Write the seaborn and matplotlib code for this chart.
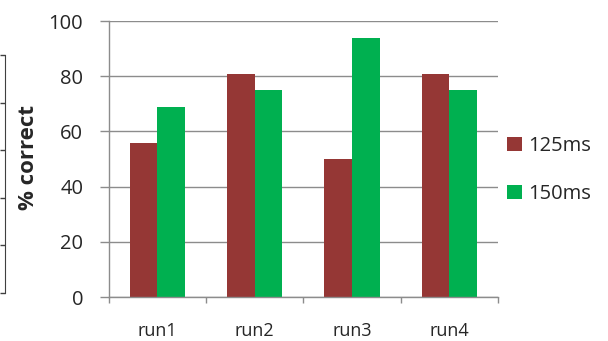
import matplotlib
matplotlib.use("Agg")
import matplotlib.pyplot as plt
import seaborn as sns
import pandas as pd

# values
runs = ["run1", "run2", "run3", "run4"]
ms125 = [56, 81, 50, 81]
ms150 = [69, 75, 94, 75]
series = ["125ms", "150ms"]
colors = ["#953735", "#00B050"]

df = pd.DataFrame({
    "run": runs * 2,
    "pct": ms125 + ms150,
    "delay": [series[0]] * len(runs) + [series[1]] * len(runs),
})

sns.set_style("white")
plt.rcParams["font.family"] = ["Open Sans", "DejaVu Sans"]
text_col = "#262626"
grid_col = "#8c8c8c"

fig = plt.figure(figsize=(6.08, 3.41), dpi=100)
ax = fig.add_axes([0.179, 0.129, 0.640, 0.809])

sns.barplot(data=df, x="run", y="pct", hue="delay", palette=colors,
            width=0.57, gap=0, saturation=1, linewidth=0, ax=ax, legend=True)

ax.set_ylim(0, 100)
ax.set_yticks(range(0, 101, 20))
ax.set_xlim(-0.5, len(runs) - 0.5)
ax.yaxis.grid(True, color=grid_col, linewidth=1)
ax.set_axisbelow(True)

for side in ["top", "right"]:
    ax.spines[side].set_visible(False)
for side in ["left", "bottom"]:
    ax.spines[side].set_color(grid_col)
    ax.spines[side].set_linewidth(1)

ax.tick_params(axis="y", direction="out", length=6.5, width=1, color=grid_col,
               labelsize=14.5, labelcolor=text_col, pad=12, left=True)
ax.set_xticks([i - 0.5 for i in range(len(runs) + 1)], minor=True)
ax.tick_params(axis="x", which="minor", direction="out", length=4.5, width=1,
               color=grid_col, bottom=True)
ax.tick_params(axis="x", which="major", length=0, labelsize=13,
               labelcolor=text_col, pad=18)

ax.set_xlabel("")
ax.set_ylabel("% correct", fontsize=16, fontweight="bold", color=text_col)
ax.yaxis.set_label_coords(39 / 608, 1 - 158 / 341, transform=fig.transFigure)

ax.legend(loc="center left", bbox_to_anchor=(507 / 608, 1 - 170 / 341),
          bbox_transform=fig.transFigure, frameon=False, borderpad=0,
          borderaxespad=0, fontsize=14.5, labelspacing=1.4,
          handlelength=0.75, handleheight=0.75, handletextpad=0.3,
          labelcolor=text_col)

# edge of a neighbouring chart cropped in at the far left
ax2 = fig.add_axes([0.008, 1 - 293 / 341, 0.001, (293 - 55) / 341])
ax2.set_ylim(0, 5)
ax2.set_yticks(range(6))
ax2.set_yticklabels([])
ax2.set_xticks([])
for side in ["top", "right", "bottom"]:
    ax2.spines[side].set_visible(False)
ax2.spines["left"].set_color("#404040")
ax2.tick_params(axis="y", direction="out", length=3.5, width=1,
                color="#404040", left=True)
ax2.patch.set_visible(False)

fig.savefig("out.png", dpi=100)
